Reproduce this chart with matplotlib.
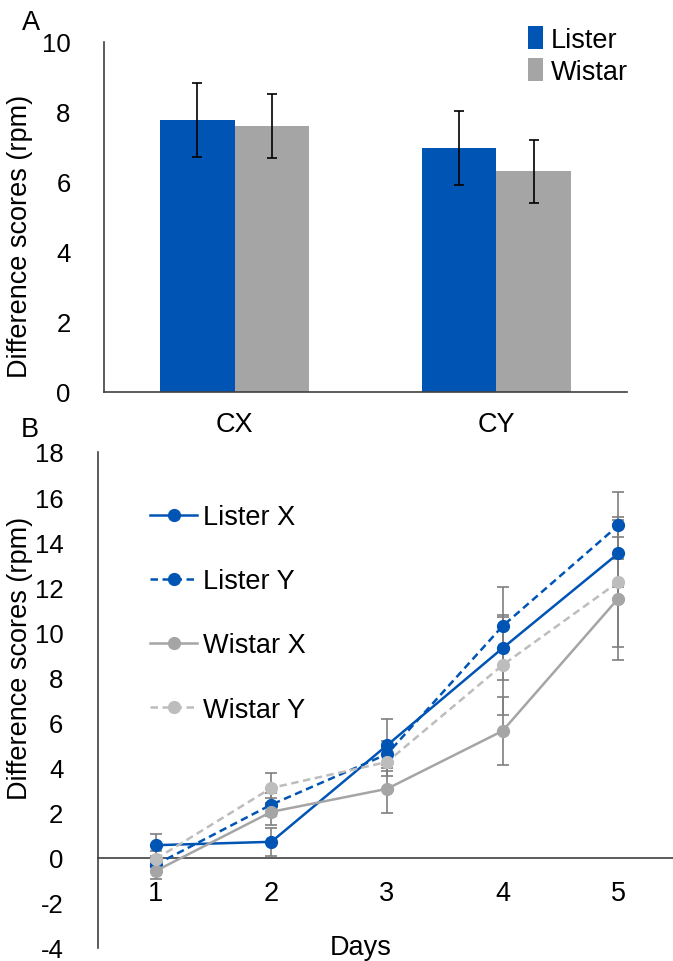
import matplotlib
matplotlib.use("Agg")
import matplotlib.pyplot as plt
import numpy as np

plt.rcParams['font.family'] = ['Liberation Sans', 'DejaVu Sans']
plt.rcParams['axes.unicode_minus'] = False

# Panel A data
categories = ["CX", "CY"]
lister_bar = [7.77, 6.97]
lister_bar_err = [1.06, 1.05]
wistar_bar = [7.60, 6.31]
wistar_bar_err = [0.91, 0.90]

# Panel B data
days = [1, 2, 3, 4, 5]
lister_x = [0.56, 0.71, 4.99, 9.30, 13.50]
lister_x_err = [0.50, 0.62, 1.15, 1.40, 1.50]
lister_y = [-0.30, 2.36, 4.60, 10.28, 14.74]
lister_y_err = [0.35, 0.50, 0.60, 1.72, 1.48]
wistar_x = [-0.58, 2.04, 3.06, 5.63, 11.50]
wistar_x_err = [0.35, 0.60, 1.07, 1.50, 2.74]
wistar_y = [-0.05, 3.10, 4.25, 8.55, 12.23]
wistar_y_err = [0.35, 0.65, 0.60, 2.20, 2.88]

BLUE = "#0054B4"
GRAY = "#A5A5A5"
LGRAY = "#BDBDBD"
ERR = "#7F7F7F"
FS = 19.5
TFS = 18.5

fig = plt.figure(figsize=(6.73, 9.62), dpi=100)

# ---------- Panel A ----------
axA = fig.add_axes([104/673, 1-393/962, (627-104)/673, (393-43)/962])
x = np.arange(len(categories))
w = 0.285
axA.bar(x - w/2, lister_bar, w, color=BLUE, label="Lister",
        yerr=lister_bar_err, capsize=3.5, error_kw=dict(ecolor="black", elinewidth=1.2, capthick=1.2))
axA.bar(x + w/2, wistar_bar, w, color=GRAY, label="Wistar",
        yerr=wistar_bar_err, capsize=3.5, error_kw=dict(ecolor="black", elinewidth=1.2, capthick=1.2))
axA.set_xlim(-0.5, 1.5)
axA.set_ylim(0, 10)
axA.set_yticks([0, 2, 4, 6, 8, 10])
axA.set_xticks(x)
axA.set_xticklabels(categories)
for s in ["top", "right"]:
    axA.spines[s].set_visible(False)
for s in ["left", "bottom"]:
    axA.spines[s].set_color("#404040")
    axA.spines[s].set_linewidth(1.2)
axA.tick_params(axis="y", length=0, pad=24, labelsize=TFS)
axA.tick_params(axis="x", length=0, pad=14, labelsize=FS)
axA.legend(loc="upper left", bbox_to_anchor=(424/523, 1.045), frameon=False, fontsize=FS,
           handlelength=0.55, handleheight=0.9, handletextpad=0.3, labelspacing=0.2,
           borderaxespad=0, borderpad=0)
fig.text(20/673, 1-236/962, "Difference scores (rpm)", rotation=90, ha="center", va="center", fontsize=FS)
fig.text(31/673, 1-23/962, "A", ha="center", va="center", fontsize=FS)

# ---------- Panel B ----------
axB = fig.add_axes([98/673, 1-949/962, (676-98)/673, (949-453)/962])
series = [
    (lister_x, lister_x_err, "Lister X", BLUE, "-"),
    (lister_y, lister_y_err, "Lister Y", BLUE, (0, (3, 1.8))),
    (wistar_x, wistar_x_err, "Wistar X", GRAY, "-"),
    (wistar_y, wistar_y_err, "Wistar Y", LGRAY, (0, (3, 1.8))),
]
for vals, err, lab, col, ls in series:
    axB.errorbar(days, vals, yerr=err, fmt="none", ecolor=ERR, elinewidth=1.2,
                 capsize=4.5, capthick=1.2, zorder=2)
for vals, err, lab, col, ls in series:
    axB.plot(days, vals, color=col, linestyle=ls, linewidth=1.8, marker="o",
             markersize=8.5, label=lab, zorder=3)
axB.set_xlim(0.5, 5.5)
axB.set_ylim(-4, 18)
axB.set_yticks(range(-4, 19, 2))
axB.set_xticks(days)
axB.spines["bottom"].set_position(("data", 0))
for s in ["top", "right"]:
    axB.spines[s].set_visible(False)
for s in ["left", "bottom"]:
    axB.spines[s].set_color("#404040")
    axB.spines[s].set_linewidth(1.2)
axB.tick_params(axis="y", length=0, pad=25, labelsize=TFS)
axB.tick_params(axis="x", length=0, pad=16, labelsize=FS)
axB.legend(loc="upper left", bbox_to_anchor=(52/578, 0.895), frameon=False, fontsize=FS,
           handlelength=1.75, handletextpad=0.2, labelspacing=1.41, borderaxespad=0, borderpad=0)
fig.text(20/673, 1-658/962, "Difference scores (rpm)", rotation=90, ha="center", va="center", fontsize=FS)
fig.text(30/673, 1-430/962, "B", ha="center", va="center", fontsize=FS)
fig.text(361/673, 1-948/962, "Days", ha="center", va="center", fontsize=FS)

fig.savefig("out.png", dpi=100)
